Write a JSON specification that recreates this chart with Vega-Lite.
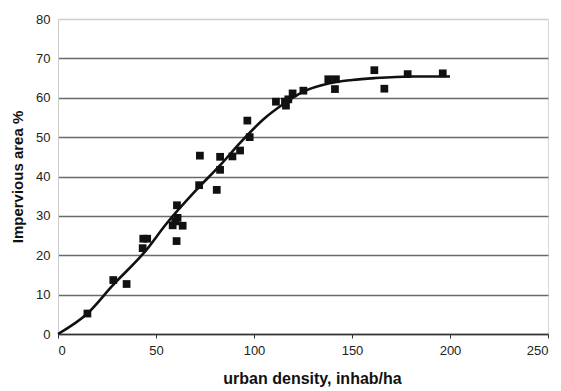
{
  "$schema": "https://vega.github.io/schema/vega-lite/v6.json",
  "width": 490,
  "height": 315,
  "autosize": {"type": "none"},
  "padding": {"left": 58, "top": 19, "right": 13, "bottom": 57},
  "background": "white",
  "config": {
    "view": {"stroke": "#d8d8d8"},
    "font": "Liberation Sans",
    "axis": {"labelFont": "Liberation Sans", "titleFont": "Liberation Sans", "labelColor": "#222", "titleColor": "#111"}
  },
  "datasets": {
    "points": [
      {"density": 15, "impervious": 5.2},
      {"density": 28.2, "impervious": 13.7},
      {"density": 35, "impervious": 12.7},
      {"density": 43.5, "impervious": 24.2},
      {"density": 45.5, "impervious": 24.2},
      {"density": 43.2, "impervious": 21.8},
      {"density": 58.5, "impervious": 27.6},
      {"density": 63.6, "impervious": 27.5},
      {"density": 60.5, "impervious": 23.6},
      {"density": 60.7, "impervious": 32.7},
      {"density": 59.8, "impervious": 28.6},
      {"density": 61, "impervious": 29.5},
      {"density": 72.4, "impervious": 45.3},
      {"density": 72, "impervious": 37.8},
      {"density": 81, "impervious": 36.6},
      {"density": 82.7, "impervious": 45},
      {"density": 82.7, "impervious": 41.7},
      {"density": 89, "impervious": 45.1},
      {"density": 92.9, "impervious": 46.6},
      {"density": 96.6, "impervious": 54.2},
      {"density": 97.8, "impervious": 50},
      {"density": 111.2, "impervious": 59},
      {"density": 115.8, "impervious": 59},
      {"density": 116.3, "impervious": 58},
      {"density": 117.5, "impervious": 59.6},
      {"density": 119.7, "impervious": 61.1},
      {"density": 125.2, "impervious": 61.8},
      {"density": 137.9, "impervious": 64.7},
      {"density": 141.8, "impervious": 64.7},
      {"density": 141.3, "impervious": 62.2},
      {"density": 161.4, "impervious": 67},
      {"density": 166.5, "impervious": 62.3},
      {"density": 178.4, "impervious": 66},
      {"density": 196.3, "impervious": 66.2}
    ],
    "curve": [
      {"density": 0, "impervious": 0},
      {"density": 15, "impervious": 5.2},
      {"density": 28, "impervious": 12.4},
      {"density": 45, "impervious": 21.3},
      {"density": 55, "impervious": 27.8},
      {"density": 71, "impervious": 36.8},
      {"density": 83, "impervious": 43},
      {"density": 93, "impervious": 48.6},
      {"density": 105, "impervious": 54.6},
      {"density": 115, "impervious": 58.4},
      {"density": 125, "impervious": 61.5},
      {"density": 138, "impervious": 63.6},
      {"density": 150, "impervious": 64.5},
      {"density": 162, "impervious": 65},
      {"density": 180, "impervious": 65.4},
      {"density": 200, "impervious": 65.4}
    ]
  },
  "encoding": {
    "x": {
      "field": "density", "type": "quantitative",
      "scale": {"domain": [0, 250], "nice": false},
      "axis": {
        "values": [0, 50, 100, 150, 200, 250],
        "title": "urban density, inhab/ha",
        "titleFontSize": 16, "titleFontWeight": "bold", "titlePadding": 13, "titleX": 254,
        "labelFontSize": 13, "labelPadding": 6,
        "grid": false, "domainColor": "#333", "domainWidth": 1.5,
        "tickColor": "#333", "tickSize": 4
      }
    },
    "y": {
      "field": "impervious", "type": "quantitative",
      "scale": {"domain": [0, 80], "nice": false},
      "axis": {
        "values": [0, 10, 20, 30, 40, 50, 60, 70, 80],
        "labelOverlap": false,
        "title": "Impervious area %",
        "titleFontSize": 15, "titleFontWeight": "bold", "titlePadding": 10,
        "labelFontSize": 13, "labelPadding": 8,
        "grid": true,
        "gridColor": {"condition": {"test": "datum.value === 80", "value": "#cfcfcf"}, "value": "#6a6a6a"},
        "gridWidth": 1.3,
        "domain": true, "domainColor": "#ccc", "domainWidth": 1,
        "ticks": false
      }
    }
  },
  "layer": [
    {
      "data": {"name": "points"},
      "mark": {"type": "point", "shape": "square", "filled": true, "size": 60, "color": "#111", "opacity": 1}
    },
    {
      "data": {"name": "curve"},
      "mark": {"type": "line", "color": "#111", "strokeWidth": 2.6, "interpolate": "monotone"}
    }
  ]
}
